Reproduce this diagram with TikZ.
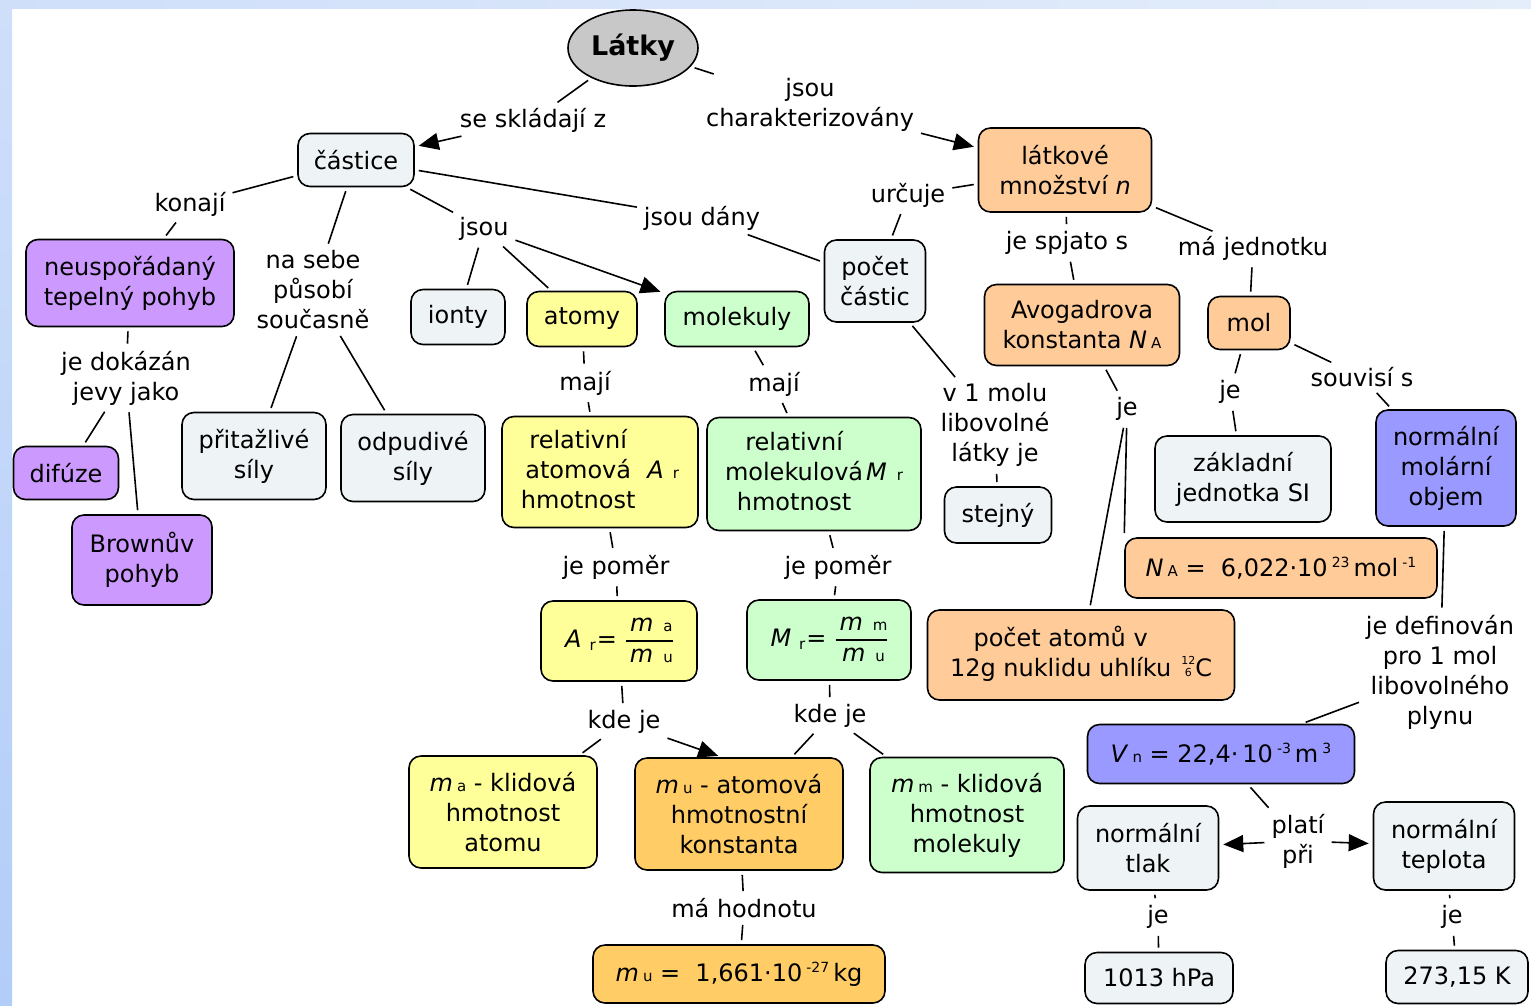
\documentclass[tikz,border=0pt]{standalone}
\usepackage{fontspec}
\setmainfont{DejaVu Sans}
\usetikzlibrary{shapes.geometric,arrows.meta,calc}
\definecolor{cbg}{HTML}{EEF3F6}
\definecolor{cyel}{HTML}{FFFF99}
\definecolor{cgrn}{HTML}{CCFFCC}
\definecolor{cpur}{HTML}{CC99FF}
\definecolor{corg}{HTML}{FFCC99}
\definecolor{cgold}{HTML}{FFCC66}
\definecolor{cblu}{HTML}{9999FF}
\definecolor{cgray}{HTML}{C8C8C8}
\definecolor{bandA}{HTML}{CFDFFA}
\definecolor{bandB}{HTML}{B2CDF8}
\definecolor{bandC}{HTML}{E4EDFA}
\newcommand{\fs}{\fontsize{24}{30}\selectfont}
\newcommand{\subx}[1]{{\fontsize{15}{15}\selectfont #1}}
\newcommand{\supx}[1]{\raisebox{9pt}{\fontsize{14}{14}\selectfont #1}}
\newcommand{\fracx}[2]{{\setlength{\arrayrulewidth}{1.6pt}\begin{tabular}{@{}c@{}}\hspace{4pt}#1\hspace{8pt}\\\hline\hspace{4pt}#2\hspace{8pt}\end{tabular}}}
\newcommand{\isoC}{{\fontsize{11}{12}\selectfont\renewcommand{\arraystretch}{1}\begin{tabular}[b]{@{}c@{}}12\\6\end{tabular}}C}
\begin{document}
\begin{tikzpicture}[x=1pt,y=-1pt,
  concept/.style={draw=black, line width=1.6pt, rounded corners=12pt, align=center, inner sep=2pt, font=\fs},
  lbl/.style={align=center, inner sep=3pt, font=\fs},
  link/.style={line width=1.6pt, shorten <=4pt, shorten >=4pt},
  arr/.style={link, -{Triangle[length=20pt,width=17pt]}}]
\useasboundingbox (0,0) rectangle (1531,1005);
\fill[white] (0,0) rectangle (1531,1005);
\shade[left color=bandA, right color=bandC] (0,0) rectangle (1531,8);
\shade[top color=bandA, bottom color=bandB] (0,0) rectangle (12,1005);

% concepts
\node[ellipse, draw=black, line width=1.6pt, fill=cgray, minimum width=130pt, minimum height=76pt, inner sep=0pt, font=\fontsize{27}{30}\selectfont\bfseries] (latky) at (633,48) {Látky};
\node[concept, fill=cbg, minimum width=116pt, minimum height=53pt] (castice) at (356,160) {částice};
\node[concept, fill=corg, minimum width=173pt, minimum height=84pt] (lm) at (1065,170) {látkové\\množství \textit{n}};
\node[concept, fill=cpur, minimum width=208pt, minimum height=87pt] (neusp) at (130,283) {neuspořádaný\\tepelný pohyb};
\node[concept, fill=cbg, minimum width=94pt, minimum height=55pt] (ionty) at (458,317) {ionty};
\node[concept, fill=cyel, minimum width=110pt, minimum height=55pt] (atomy) at (582,319) {atomy};
\node[concept, fill=cgrn, minimum width=144pt, minimum height=55pt] (molekuly) at (737,319) {molekuly};
\node[concept, fill=cbg, minimum width=101pt, minimum height=82pt] (pocet) at (875,281) {počet\\částic};
\node[concept, fill=corg, minimum width=195pt, minimum height=81pt] (avog) at (1082,325) {Avogadrova\\konstanta \textit{N}\,\subx{A}};
\node[concept, fill=corg, minimum width=82pt, minimum height=53pt] (mol) at (1249,323) {mol};
\node[concept, fill=cpur, minimum width=105pt, minimum height=53pt] (difuze) at (66,473) {difúze};
\node[concept, fill=cpur, minimum width=140pt, minimum height=90pt] (brown) at (142,560) {Brownův\\pohyb};
\node[concept, fill=cbg, minimum width=144pt, minimum height=87pt] (pritaz) at (254,456) {přitažlivé\\síly};
\node[concept, fill=cbg, minimum width=144pt, minimum height=87pt] (odpud) at (413,458) {odpudivé\\síly};
\node[concept, fill=cyel, minimum width=196pt, minimum height=111pt] (relA) at (600,472) {\begin{tabular}{@{}c@{}}relativní\\atomová\\hmotnost\end{tabular}\hspace{12pt}\textit{A}\hspace{9pt}\subx{r}};
\node[concept, fill=cgrn, minimum width=214pt, minimum height=113pt] (relM) at (814,474) {\begin{tabular}{@{}c@{}}relativní\\molekulová\\hmotnost\end{tabular}\hspace{3pt}\textit{M}\hspace{10pt}\subx{r}};
\node[concept, fill=cbg, minimum width=107pt, minimum height=56pt] (stejny) at (998,515) {stejný};
\node[concept, fill=cbg, minimum width=176pt, minimum height=86pt] (zakl) at (1243,479) {základní\\jednotka SI};
\node[concept, fill=cblu, minimum width=140pt, minimum height=116pt] (nmo) at (1446,468) {normální\\molární\\objem};
\node[concept, fill=corg, minimum width=312pt, minimum height=60pt] (NA) at (1281,568) {\textit{N}\,\subx{A} = \ 6,022·10\,\supx{23}\,mol\,\supx{-1}};
\node[concept, fill=corg, minimum width=307pt, minimum height=90pt] (c12) at (1081,655) {\begin{tabular}[b]{@{}c@{}}počet atomů v\\12g nuklidu uhlíku\end{tabular}\hspace{10pt}\isoC};
\node[concept, fill=cyel, minimum width=156pt, minimum height=80pt] (Ar) at (619,641) {\textit{A}\hspace{8pt}\raisebox{-3pt}{\subx{r}}\hspace{1pt}=\hspace{9pt}\fracx{\textit{m}\hspace{10pt}\subx{a}}{\textit{m}\hspace{10pt}\subx{u}}};
\node[concept, fill=cgrn, minimum width=164pt, minimum height=80pt] (Mr) at (829,640) {\textit{M}\hspace{8pt}\raisebox{-3pt}{\subx{r}}\hspace{1pt}=\hspace{9pt}\fracx{\textit{m}\hspace{10pt}\subx{m}}{\textit{m}\hspace{10pt}\subx{u}}};
\node[concept, fill=cyel, minimum width=188pt, minimum height=112pt] (ma) at (503,812) {\textit{m}\,\subx{a} - klidová\\hmotnost\\atomu};
\node[concept, fill=cgold, minimum width=208pt, minimum height=112pt] (mu) at (739,814) {\textit{m}\,\subx{u} - atomová\\hmotnostní\\konstanta};
\node[concept, fill=cgrn, minimum width=194pt, minimum height=115pt] (mm) at (967,815) {\textit{m}\,\subx{m} - klidová\\hmotnost\\molekuly};
\node[concept, fill=cgold, minimum width=292pt, minimum height=58pt] (muv) at (739,974) {\textit{m}\,\subx{u} = \ 1,661·10\,\supx{-27}\,kg};
\node[concept, fill=cblu, minimum width=267pt, minimum height=59pt] (Vn) at (1221,754) {\textit{V}\,\subx{n} = 22,4·\,10\,\supx{-3}\,m\,\supx{3}};
\node[concept, fill=cbg, minimum width=141pt, minimum height=84pt] (ntlak) at (1148,848) {normální\\tlak};
\node[concept, fill=cbg, minimum width=141pt, minimum height=88pt] (ntepl) at (1444,846) {normální\\teplota};
\node[concept, fill=cbg, minimum width=148pt, minimum height=51pt] (hpa) at (1159,978) {1013 hPa};
\node[concept, fill=cbg, minimum width=142pt, minimum height=53pt] (kelv) at (1457,977) {273,15 K};

% linking phrases
\node[lbl] (l1) at (533,120) {se skládají z};
\node[lbl] (l2) at (810,105) {jsou\\charakterizovány};
\node[lbl] (l3) at (190,204) {konají};
\node[lbl] (l4) at (313,290) {na sebe\\působí\\současně};
\node[lbl] (l5) at (484,229) {jsou};
\node[lbl] (l6) at (702,218) {jsou dány};
\node[lbl] (l7) at (908,195) {určuje};
\node[lbl] (l8) at (1067,243) {je spjato s};
\node[lbl] (l9) at (1253,248) {má jednotku};
\node[lbl] (l10) at (126,378) {je dokázán\\jevy jako};
\node[lbl] (l11) at (585,383) {mají};
\node[lbl] (l12) at (774,384) {mají};
\node[lbl] (l13) at (995,425) {v 1 molu\\libovolné\\látky je};
\node[lbl] (l14) at (1127,409) {je};
\node[lbl] (l15) at (1230,392) {je};
\node[lbl] (l16) at (1362,377) {souvisí s};
\node[lbl] (l17) at (616,567) {je poměr};
\node[lbl] (l18) at (838,567) {je poměr};
\node[lbl] (l19) at (624,722) {kde je};
\node[lbl] (l20) at (830,716) {kde je};
\node[lbl] (l21) at (1440,672) {je definován\\pro 1 mol\\libovolného\\plynu};
\node[lbl] (l22) at (744,908) {má hodnotu};
\node[lbl] (l23) at (1298,841) {platí\\při};
\node[lbl] (l24) at (1158,917) {je};
\node[lbl] (l25) at (1452,917) {je};

% connectors
\draw[link] (latky) -- (l1);
\draw[arr] (l1) -- (castice);
\draw[link] (latky) -- (l2);
\draw[arr] (l2) -- (lm);
\draw[link] (castice) -- (l3);
\draw[link] (l3) -- (neusp);
\draw[link] (castice) -- (l4);
\draw[link] (l4) -- (pritaz);
\draw[link] (l4) -- (odpud);
\draw[link] (castice) -- (l5);
\draw[link] (l5) -- (ionty);
\draw[link] (l5) -- (atomy);
\draw[arr] (l5) -- (molekuly);
\draw[link] (castice) -- (l6);
\draw[link] (l6) -- (pocet);
\draw[link] (pocet) -- (l7);
\draw[link] (l7) -- (lm);
\draw[link] (pocet) -- (l13);
\draw[link] (l13) -- (stejny);
\draw[link] (lm) -- (l8);
\draw[link] (l8) -- (avog);
\draw[link] (lm) -- (l9);
\draw[link] (l9) -- (mol);
\draw[link] (avog) -- (l14);
\draw[link] (l14) -- (NA.north west);
\draw[link] (l14) -- (c12);
\draw[link] (mol) -- (l15);
\draw[link] (l15) -- (zakl);
\draw[link] (mol) -- (l16);
\draw[link] (l16) -- (nmo);
\draw[link] (nmo) -- (l21);
\draw[link] (l21) -- (Vn);
\draw[link] (Vn) -- (l23);
\draw[arr] (l23) -- (ntlak);
\draw[arr] (l23) -- (ntepl);
\draw[link] (ntlak) -- (l24);
\draw[link] (l24) -- (hpa);
\draw[link] (ntepl) -- (l25);
\draw[link] (l25) -- (kelv);
\draw[link] (neusp) -- (l10);
\draw[link] (l10) -- (difuze);
\draw[link] (l10) -- (brown);
\draw[link] (atomy) -- (l11);
\draw[link] (l11) -- (relA);
\draw[link] (molekuly) -- (l12);
\draw[link] (l12) -- (relM);
\draw[link] (relA) -- (l17);
\draw[link] (l17) -- (Ar);
\draw[link] (relM) -- (l18);
\draw[link] (l18) -- (Mr);
\draw[link] (Ar) -- (l19);
\draw[link] (l19) -- (ma);
\draw[arr] (l19.south east) -- ([xshift=-17pt]mu.north);
\draw[link] (Mr) -- (l20);
\draw[link] (l20) -- (mu);
\draw[link] (l20) -- (mm);
\draw[link] (mu) -- (l22);
\draw[link] (l22) -- (muv);
\end{tikzpicture}
\end{document}
